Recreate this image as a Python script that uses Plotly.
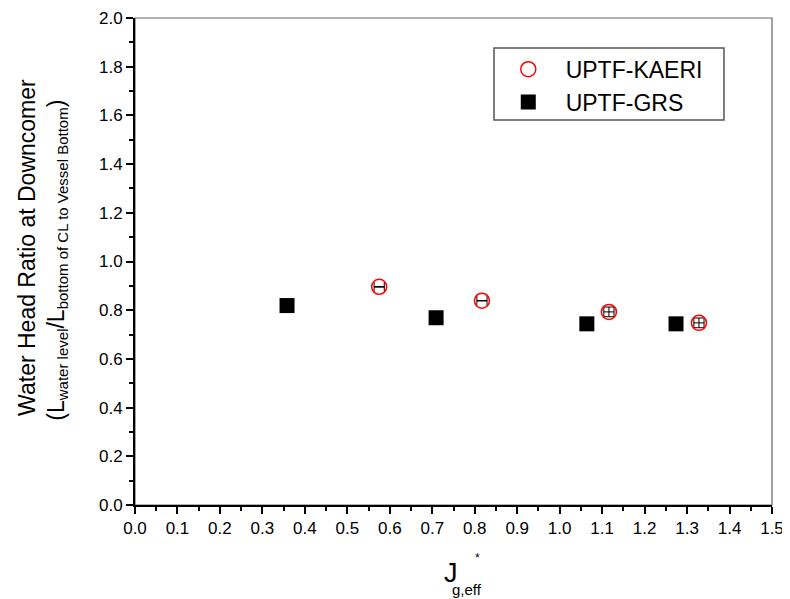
import plotly.graph_objects as go

# Data
kaeri_x = [0.575, 0.817, 1.116, 1.328]
kaeri_y = [0.896, 0.839, 0.793, 0.748]
kaeri_ex = [0.012, 0.012, 0.012, 0.012]
kaeri_ey = [0.0, 0.0, 0.02, 0.02]

grs_x = [0.358, 0.709, 1.064, 1.274]
grs_y = [0.819, 0.769, 0.744, 0.744]

x_ticks = [round(0.1 * i, 1) for i in range(16)]
y_ticks = [round(0.2 * i, 1) for i in range(11)]

FONT = "Liberation Sans, Arial, sans-serif"
NB = "\u00a0"

fig = go.Figure()
fig.add_trace(go.Scatter(
    x=kaeri_x, y=kaeri_y, mode="markers", name=NB * 2 + "\u2009UPTF-KAERI",
    marker=dict(symbol="circle-open", size=15, color="red", line=dict(width=1.5, color="red")),
    error_x=dict(type="data", array=kaeri_ex, color="black", thickness=1, width=5),
    error_y=dict(type="data", array=kaeri_ey, color="black", thickness=1, width=5),
))
fig.add_trace(go.Scatter(
    x=grs_x, y=grs_y, mode="markers", name=NB * 2 + "\u2009UPTF-GRS",
    marker=dict(symbol="square", size=15, color="black", line=dict(width=0)),
))

# page body has an 8px margin: plot area spans screen x 135..772, y 18..505
fig.update_layout(
    width=782, height=591,
    margin=dict(l=127, r=18, t=10, b=94, autoexpand=False),
    paper_bgcolor="white", plot_bgcolor="white",
    font=dict(family=FONT, size=17, color="black"),
    showlegend=True,
    legend=dict(
        x=0.586, y=0.939, xanchor="left", yanchor="top",
        bgcolor="rgba(0,0,0,0)", borderwidth=0,
        font=dict(family=FONT, size=23, color="black"),
        tracegroupgap=0,
    ),
)

fig.update_xaxes(
    range=[0, 1.5], tickvals=x_ticks, ticktext=[f"{v:.1f}" for v in x_ticks],
    showgrid=False, zeroline=False, automargin=False,
    showline=True, linecolor="black", linewidth=2,
    ticks="outside", ticklen=7, tickwidth=2, tickcolor="black",
    minor=dict(dtick=0.05, ticks="outside", ticklen=4, tickwidth=2, tickcolor="black", showgrid=False),
    tickfont=dict(size=17), ticklabeloverflow="allow",
)
fig.update_yaxes(
    range=[0, 2.0], tickvals=y_ticks, ticktext=[f"{v:.1f}" for v in y_ticks],
    showgrid=False, zeroline=False, automargin=False,
    showline=True, linecolor="black", linewidth=2,
    ticks="outside", ticklen=7, tickwidth=2, tickcolor="black",
    minor=dict(dtick=0.1, ticks="outside", ticklen=4, tickwidth=2, tickcolor="black", showgrid=False),
    tickfont=dict(size=17), ticklabeloverflow="allow",
)

# gray frame (top/right)
fig.add_shape(type="rect", xref="paper", yref="paper", x0=0, x1=1, y0=0, y1=1,
              line=dict(color="#666666", width=1.2), layer="below")
# legend frame
fig.add_shape(type="rect", xref="paper", yref="paper", x0=0.5636, x1=0.9246, y0=0.7906, y1=0.9384,
              line=dict(color="#555555", width=1.5), fillcolor="rgba(0,0,0,0)", layer="below")

# axis titles
fig.add_annotation(
    xref="paper", yref="paper", x=-0.1695, y=0.528, xanchor="center", yanchor="middle",
    text="Water Head Ratio at Downcomer", textangle=-90, showarrow=False,
    font=dict(family=FONT, size=23, color="black"),
)
fig.add_annotation(
    xref="paper", yref="paper", x=-0.123, y=0.503, xanchor="center", yanchor="middle",
    text=("(L<sub><span style=\"font-size:15px\">water level</span></sub>"
          "/L<sub><span style=\"font-size:15px\">bottom of CL to Vessel Bottom</span></sub>)"),
    textangle=-90, showarrow=False,
    font=dict(family=FONT, size=23, color="black"),
)
fig.add_annotation(
    xref="paper", yref="paper", x=0.496, y=-0.139, xanchor="center", yanchor="middle",
    text="J", showarrow=False, font=dict(family=FONT, size=27, color="black"),
)
fig.add_annotation(
    xref="paper", yref="paper", x=0.521, y=-0.174, xanchor="center", yanchor="middle",
    text="g,eff", showarrow=False, font=dict(family=FONT, size=15, color="black"),
)
fig.add_annotation(
    xref="paper", yref="paper", x=0.538, y=-0.108, xanchor="center", yanchor="middle",
    text="*", showarrow=False, font=dict(family=FONT, size=12, color="black"),
)

fig.write_html("out.html")
